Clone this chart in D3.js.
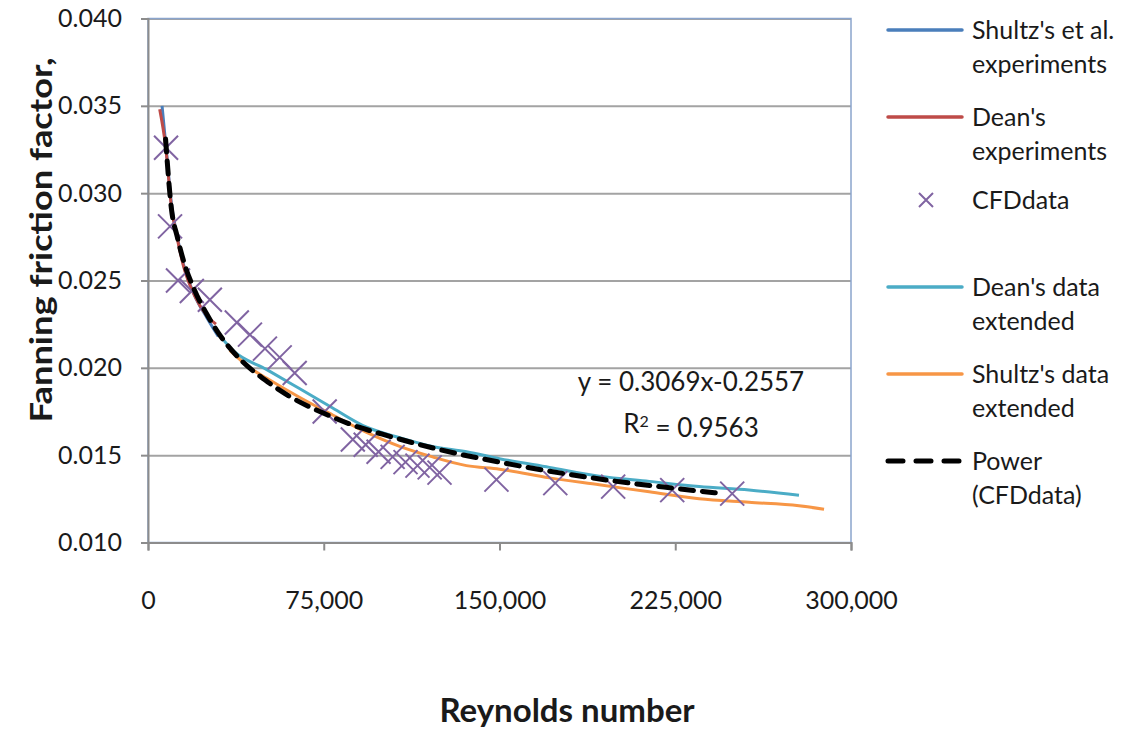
<!DOCTYPE html>
<html>
<head>
<meta charset="utf-8">
<script src="https://cdn.jsdelivr.net/npm/d3@7"></script>
<style>
  body { margin: 0; background: #fff; }
  text { font-family: Lato, "Open Sans", sans-serif; fill: #1a1a1a; }
</style>
</head>
<body>
<div id="plot"></div>
<script>
// Data
const shultzRe = [6000, 8000, 10000, 12500, 15000, 20000, 25000, 30000];
const shultzF  = [0.0350, 0.0322, 0.0294, 0.0275, 0.0260, 0.0241, 0.0229, 0.0218];

const deanRe = [5000, 7500, 10000, 12500, 15000, 20000, 25000, 29000];
const deanF  = [0.0348, 0.0327, 0.0292, 0.0274, 0.0259, 0.0241, 0.0230, 0.0225];

const cfdRe = [7700, 9400, 12800, 18700, 26400, 37900, 43500, 49900, 56200, 62600,
               75400, 87400, 92900, 98400, 104400, 109900, 115000, 120200, 124400,
               148700, 173800, 198500, 223700, 249300];
const cfdF  = [0.0326, 0.0281, 0.0250, 0.0244, 0.0239, 0.0226, 0.0219, 0.0211, 0.0206, 0.0197,
               0.0175, 0.0159, 0.0156, 0.0152, 0.0149, 0.0146, 0.0144, 0.0143, 0.0140,
               0.0136, 0.0134, 0.0132, 0.0130, 0.0128];

const deanExtRe = [28500, 36200, 50700, 64800, 78800, 93300, 107400, 121400, 135900,
                   150000, 171300, 192600, 213900, 235200, 256500, 277800];
const deanExtF  = [0.0222, 0.0210, 0.0199, 0.0188, 0.0177, 0.0166, 0.0160, 0.0155, 0.0152,
                   0.0148, 0.0143, 0.0138, 0.0135, 0.0132, 0.0130, 0.0127];

const shultzExtRe = [34900, 43500, 50700, 64800, 78800, 93300, 107400, 121400, 135900,
                     150000, 171300, 192600, 213900, 235200, 256500, 277800, 288500];
const shultzExtF  = [0.0210, 0.0200, 0.0194, 0.0183, 0.0173, 0.0163, 0.0155, 0.0149, 0.0144,
                     0.0142, 0.0137, 0.0133, 0.0129, 0.0125, 0.0123, 0.0121, 0.0119];

const powerRe = [7500, 10000, 12500, 15000, 20000, 25000, 30000, 40000, 50000, 60000,
                 75000, 90000, 100000, 125000, 150000, 175000, 200000, 225000, 245000];
const powerF  = [0.0331, 0.0291, 0.0275, 0.0262, 0.0244, 0.0231, 0.0220, 0.0204, 0.0193, 0.0184,
                 0.0174, 0.0166, 0.0162, 0.0153, 0.0146, 0.0140, 0.0135, 0.0131, 0.0128];

const xTicks = [0, 75000, 150000, 225000, 300000];
const yTicks = [0.010, 0.015, 0.020, 0.025, 0.030, 0.035, 0.040];

const legendItems = [
  {lines: ["Shultz's et al.", "experiments"], color: "#4a7ebb", type: "line", y: 30},
  {lines: ["Dean's", "experiments"], color: "#be4b48", type: "line", y: 117},
  {lines: ["CFDdata"], color: "#8064a2", type: "cross", y: 200},
  {lines: ["Dean's data", "extended"], color: "#4bacc6", type: "line", y: 287},
  {lines: ["Shultz's data", "extended"], color: "#f79646", type: "line", y: 374},
  {lines: ["Power", "(CFDdata)"], color: "#000", type: "dash", y: 461}
];

const W = 1123, H = 729;
const plotLeft = 148, plotRight = 851, plotTop = 18.5, plotBottom = 542.5;

const svg = d3.select("#plot").append("svg")
    .attr("width", W)
    .attr("height", H);

const x = d3.scaleLinear().domain([0, 300000]).range([plotLeft, plotRight]);
const y = d3.scaleLinear().domain([0.010, 0.040]).range([plotBottom, plotTop]);

// gridlines
svg.append("g")
    .attr("transform", `translate(${plotLeft},0)`)
    .call(d3.axisLeft(y).tickValues(yTicks).tickSize(-(plotRight - plotLeft)).tickFormat(""))
    .call(g => g.select(".domain").remove())
    .call(g => g.selectAll("line").attr("stroke", "#a3a3a3").attr("stroke-width", 2));

// plot area border
svg.append("rect")
    .attr("x", plotLeft).attr("y", plotTop)
    .attr("width", plotRight - plotLeft).attr("height", plotBottom - plotTop)
    .attr("fill", "none")
    .attr("stroke", "#8aa4cc")
    .attr("stroke-width", 1.5);

// axes
const xAxis = svg.append("g")
    .attr("transform", `translate(0,${plotBottom})`)
    .call(d3.axisBottom(x).tickValues(xTicks).tickSize(8).tickPadding(41)
      .tickFormat(d3.format(",")));
const yAxis = svg.append("g")
    .attr("transform", `translate(${plotLeft},0)`)
    .call(d3.axisLeft(y).tickValues(yTicks).tickSize(7).tickPadding(19)
      .tickFormat(d3.format(".3f")));

[xAxis, yAxis].forEach(a => {
  a.select(".domain").attr("stroke", "#8c8c8c").attr("stroke-width", 2);
  a.selectAll(".tick line").attr("stroke", "#8c8c8c").attr("stroke-width", 2);
  a.selectAll(".tick text")
    .style("font-size", "25px")
    .style("font-family", "Lato, sans-serif")
    .attr("fill", "#1a1a1a");
});

// series lines
const line = d3.line().x(d => x(d[0])).y(d => y(d[1])).curve(d3.curveMonotoneX);
const zip = (a, b) => a.map((v, i) => [v, b[i]]);

function drawLine(re, f, color, width, dash) {
  svg.append("path")
    .datum(zip(re, f))
    .attr("d", line)
    .attr("fill", "none")
    .attr("stroke", color)
    .attr("stroke-width", width)
    .attr("stroke-linecap", dash ? "round" : "butt")
    .attr("stroke-dasharray", dash || null);
}

drawLine(deanExtRe, deanExtF, "#4bacc6", 3);
drawLine(shultzExtRe, shultzExtF, "#f79646", 3);
drawLine(shultzRe, shultzF, "#4a7ebb", 3);
drawLine(deanRe, deanF, "#be4b48", 3);

// CFD crosses
const s = 12;
svg.append("g").selectAll("path")
  .data(zip(cfdRe, cfdF))
  .join("path")
    .attr("d", d => {
      const cx = x(d[0]), cy = y(d[1]);
      return `M${cx - s},${cy - s}L${cx + s},${cy + s}M${cx - s},${cy + s}L${cx + s},${cy - s}`;
    })
    .attr("stroke", "#8064a2")
    .attr("stroke-width", 2)
    .attr("fill", "none");

drawLine(powerRe, powerF, "#000", 5, "13,9");

// trendline label (centred like Excel does it)
svg.append("text")
    .attr("x", 691).attr("y", 382).attr("dy", "0.35em")
    .attr("text-anchor", "middle")
    .style("font-size", "26px")
    .text("y = 0.3069x-0.2557");
const r2 = svg.append("text")
    .attr("x", 691).attr("y", 424).attr("dy", "0.35em")
    .attr("text-anchor", "middle")
    .style("font-size", "26px");
r2.append("tspan").text("R");
r2.append("tspan").attr("dy", "-0.4em").style("font-size", "16px").text("2");
r2.append("tspan").attr("dy", "0.4em").text(" = 0.9563");

// axis titles
svg.append("text")
    .attr("transform", "translate(52,240) rotate(-90)")
    .attr("text-anchor", "middle")
    .attr("textLength", 365)
    .attr("lengthAdjust", "spacingAndGlyphs")
    .style("font-size", "30px")
    .style("font-weight", "bold")
    .text("Fanning friction factor,");

svg.append("text")
    .attr("x", 567).attr("y", 710).attr("dy", "0.35em")
    .attr("text-anchor", "middle")
    .style("font-size", "33px")
    .style("font-weight", "bold")
    .text("Reynolds number");

// legend
const lg = svg.append("g");
legendItems.forEach(item => {
  const g = lg.append("g");
  if (item.type === "cross") {
    const c = 926, r = 7;
    g.append("path")
      .attr("d", `M${c - r},${item.y - r}L${c + r},${item.y + r}M${c - r},${item.y + r}L${c + r},${item.y - r}`)
      .attr("stroke", item.color).attr("stroke-width", 2);
  } else {
    g.append("line")
      .attr("x1", 888).attr("x2", 962)
      .attr("y1", item.y).attr("y2", item.y)
      .attr("stroke", item.color)
      .attr("stroke-width", item.type === "dash" ? 5 : 3.5)
      .attr("stroke-linecap", "round")
      .attr("stroke-dasharray", item.type === "dash" ? "15,13" : null);
  }
  item.lines.forEach((t, i) => {
    g.append("text")
      .attr("x", 972).attr("y", item.y + i * 34).attr("dy", "0.35em")
      .style("font-size", "25px")
      .text(t);
  });
});
</script>
</body>
</html>
